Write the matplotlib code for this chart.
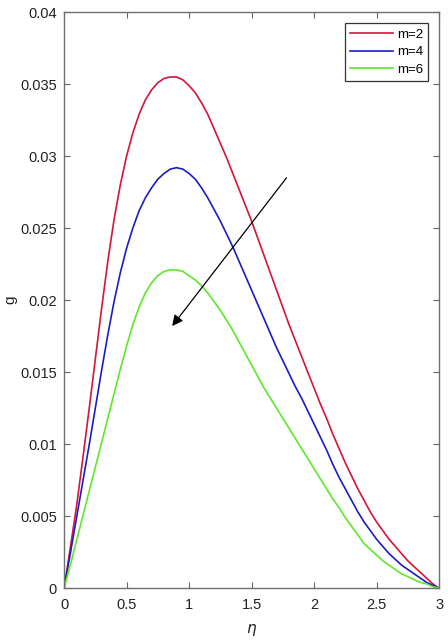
import numpy as np
import matplotlib
matplotlib.use("Agg")
import matplotlib.pyplot as plt

# values, eta step 0.05
eta = np.round(np.arange(0, 3.001, 0.05), 2)

g_m2 = [0.0, 0.0028, 0.0057, 0.0090, 0.0124, 0.0159, 0.0194, 0.0227, 0.0256, 0.0280,
        0.0300, 0.0316, 0.0329, 0.0339, 0.0346, 0.0351, 0.0354, 0.0355, 0.0355, 0.0353,
        0.0349, 0.0344, 0.0337, 0.0329, 0.0319, 0.0309, 0.0299, 0.0288, 0.0277, 0.0266,
        0.0255, 0.0243, 0.0231, 0.0219, 0.0207, 0.0195, 0.0183, 0.0172, 0.0161, 0.0150,
        0.0139, 0.0128, 0.0118, 0.0107, 0.0097, 0.0087, 0.0078, 0.0069, 0.0061, 0.0053,
        0.0046, 0.0040, 0.0034, 0.0029, 0.0024, 0.0019, 0.0015, 0.0011, 0.0007, 0.0003,
        0.0]
g_m4 = [0.0, 0.0024, 0.0049, 0.0074, 0.0099, 0.0125, 0.0151, 0.0176, 0.0199, 0.0219,
        0.0236, 0.0250, 0.0262, 0.0271, 0.0278, 0.0284, 0.0288, 0.0291, 0.0292, 0.0291,
        0.0288, 0.0284, 0.0278, 0.0271, 0.0263, 0.0255, 0.0246, 0.0237, 0.0227, 0.0217,
        0.0207, 0.0197, 0.0187, 0.0177, 0.0167, 0.0158, 0.0149, 0.0140, 0.0132, 0.0123,
        0.0114, 0.0105, 0.0096, 0.0086, 0.0077, 0.0069, 0.0061, 0.0053, 0.0046, 0.0040,
        0.0034, 0.0029, 0.0024, 0.0020, 0.0016, 0.0013, 0.0010, 0.0007, 0.0004, 0.0002,
        0.0]
g_m6 = [0.0, 0.0016, 0.0033, 0.0050, 0.0067, 0.0084, 0.0101, 0.0118, 0.0135, 0.0152,
        0.0168, 0.0183, 0.0195, 0.0205, 0.0212, 0.0217, 0.0220, 0.0221, 0.0221, 0.0220,
        0.0217, 0.0214, 0.0210, 0.0205, 0.0199, 0.0193, 0.0186, 0.0179, 0.0171, 0.0163,
        0.0155, 0.0147, 0.0139, 0.0132, 0.0125, 0.0118, 0.0111, 0.0104, 0.0097, 0.0090,
        0.0083, 0.0076, 0.0069, 0.0062, 0.0056, 0.0049, 0.0043, 0.0037, 0.0031, 0.0027,
        0.0023, 0.0019, 0.0016, 0.0013, 0.0010, 0.0008, 0.0006, 0.0004, 0.0003, 0.0001,
        0.0]

labels = ["m=2", "m=4", "m=6"]
colors = ["#d4143c", "#1c1cc4", "#5ee82a"]

x_ticks = [0, 0.5, 1, 1.5, 2, 2.5, 3]
x_ticklabels = ["0", "0.5", "1", "1.5", "2", "2.5", "3"]
y_ticks = [0, 0.005, 0.01, 0.015, 0.02, 0.025, 0.03, 0.035, 0.04]
y_ticklabels = ["0", "0.005", "0.01", "0.015", "0.02", "0.025", "0.03", "0.035", "0.04"]

# arrow (data coords): tail -> head
arrow_tail = (1.78, 0.0285)
arrow_head = (0.865, 0.0182)

plt.rcParams['font.family'] = ['Liberation Sans', 'DejaVu Sans']

fig = plt.figure(figsize=(4.48, 6.4), dpi=100)
ax = fig.add_axes([0.143, 0.081, 0.837, 0.900])

for g, lab, c in zip([g_m2, g_m4, g_m6], labels, colors):
    ax.plot(eta, g, color=c, linewidth=1.2, label=lab)

ax.annotate("", xy=arrow_head, xytext=arrow_tail,
            arrowprops=dict(arrowstyle="-|>", color="black", lw=0.9,
                            mutation_scale=16, shrinkA=0, shrinkB=0))

ax.set_xlim(0, 3)
ax.set_ylim(0, 0.04)
ax.set_xticks(x_ticks)
ax.set_xticklabels(x_ticklabels)
ax.set_yticks(y_ticks)
ax.set_yticklabels(y_ticklabels)
ax.tick_params(direction="in", top=True, right=True, length=4, width=0.8,
               color="#666666", labelsize=10.5, labelcolor="#222222")
ax.tick_params(axis="x", pad=7)
ax.tick_params(axis="y", pad=5)
for s in ax.spines.values():
    s.set_color("#707070")
    s.set_linewidth(1.0)

ax.set_xlabel(r"$\eta$", fontsize=11, color="#222222", labelpad=7)
ax.set_ylabel("g", fontsize=11, color="#222222")
ax.yaxis.set_label_coords(-0.125, 0.5)

leg = ax.legend(loc="upper right", fontsize=9.5, handlelength=3.3, handletextpad=0.25,
                borderpad=0.4, labelspacing=0.4, fancybox=False, borderaxespad=0,
                bbox_to_anchor=(0.971, 0.981), framealpha=1)
leg.get_frame().set_edgecolor("#333333")
leg.get_frame().set_linewidth(0.9)

fig.savefig("out.png", dpi=100)
